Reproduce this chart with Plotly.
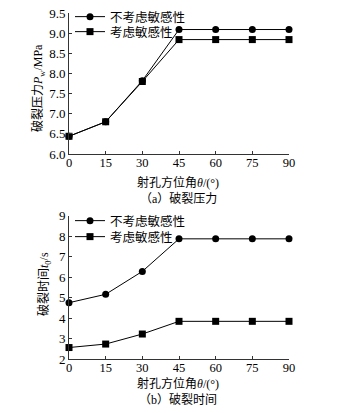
import plotly.graph_objects as go

# Perforation azimuth (degrees)
angles = [0, 15, 30, 45, 60, 75, 90]

# Breakdown pressure (MPa)
pressure_no_sens = [6.44, 6.80, 7.82, 9.09, 9.09, 9.09, 9.09]
pressure_sens = [6.44, 6.80, 7.80, 8.84, 8.84, 8.84, 8.84]

# Breakdown time (s)
time_no_sens = [4.75, 5.16, 6.28, 7.87, 7.87, 7.87, 7.87]
time_sens = [2.56, 2.73, 3.22, 3.84, 3.84, 3.84, 3.84]

label_no_sens = "不考虑敏感性"
label_sens = "考虑敏感性"

W, H = 348, 413
SERIF = "Liberation Serif, Times New Roman, serif"
CJK = "Liberation Serif, Noto Sans CJK SC, serif"


def px_x(p):
    return p / W


def px_y(p):
    return 1 - p / H


fig = go.Figure()

# one legend per row so the rows can sit close together
line_style = dict(color="black", width=1)
for name, ys, sym, xa, ya, lg in [
    (label_no_sens, pressure_no_sens, "circle", "x", "y", "legend"),
    (label_sens, pressure_sens, "square", "x", "y", "legend2"),
    (label_no_sens, time_no_sens, "circle", "x2", "y2", "legend3"),
    (label_sens, time_sens, "square", "x2", "y2", "legend4"),
]:
    fig.add_trace(go.Scatter(
        x=angles, y=ys, name=name, mode="lines+markers",
        line=line_style,
        marker=dict(symbol=sym, size=7, color="black"),
        xaxis=xa, yaxis=ya, legend=lg, cliponaxis=False,
    ))

x_dom = [px_x(69), px_x(289)]
axis_common = dict(
    showline=True, linecolor="#333", linewidth=1, mirror=False,
    showgrid=False, zeroline=False, automargin=False,
    ticks="inside", ticklen=3, tickcolor="#333", tickwidth=1,
    tickfont=dict(family=SERIF, size=13, color="black"),
)
x_extra = dict(ticklabelstandoff=-3, tickfont=dict(family=SERIF, size=12.5, color="black"))
x_common = {**axis_common, **x_extra}


def legend_at(y_center):
    return dict(
        x=px_x(70), y=px_y(y_center), xanchor="left", yanchor="middle",
        xref="container", yref="container",
        bgcolor="rgba(0,0,0,0)", itemwidth=30, tracegroupgap=0,
        font=dict(family=CJK, size=12.5, color="black"),
    )


fig.update_layout(
    width=W, height=H,
    margin=dict(l=0, r=0, t=0, b=0, autoexpand=False),
    paper_bgcolor="white", plot_bgcolor="white",
    xaxis=dict(domain=x_dom, range=[0, 90], tickvals=angles, anchor="y", **x_common),
    yaxis=dict(domain=[px_y(154), px_y(13)], range=[6.0, 9.5], dtick=0.5,
               tickformat=".1f", anchor="x", **axis_common),
    xaxis2=dict(domain=x_dom, range=[0, 90], tickvals=angles, anchor="y2", **x_common),
    yaxis2=dict(domain=[px_y(359), px_y(215.7)], range=[2, 9], dtick=1,
                anchor="x2", **axis_common),
    legend=legend_at(17),
    legend2=legend_at(32),
    legend3=legend_at(221),
    legend4=legend_at(237),
    showlegend=True,
)

texts = [
    ("破裂压力<i>P</i><sub>w</sub>/MPa", 38, 88, -90),
    ("破裂时间<i>t</i><sub>0</sub>/s", 44, 284, -90),
    ("射孔方位角<i>θ</i>/(°)", 178, 183, 0),
    ("（a）破裂压力", 178, 198, 0),
    ("射孔方位角<i>θ</i>/(°)", 178, 383, 0),
    ("（b）破裂时间", 178, 399, 0),
]
for txt, x, y, ang in texts:
    fig.add_annotation(
        text=txt, x=px_x(x), y=px_y(y), xref="paper", yref="paper",
        xanchor="center", yanchor="middle", textangle=ang, showarrow=False,
        font=dict(family=CJK, size=12, color="black"),
    )

fig.write_html("out.html")
